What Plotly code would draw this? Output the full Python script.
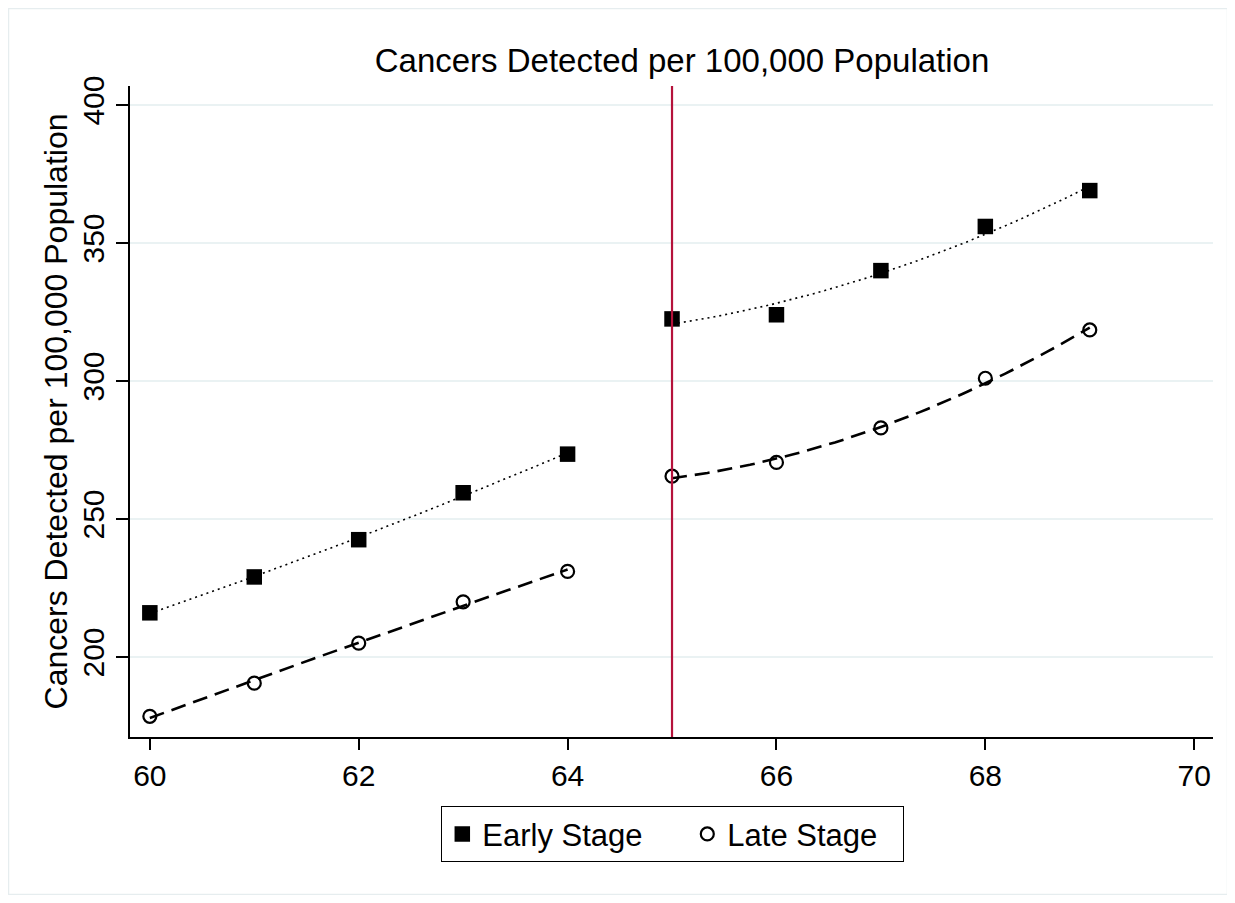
import numpy as np
import plotly.graph_objects as go

age = [60, 61, 62, 63, 64, 65, 66, 67, 68, 69]
early_stage = [216, 229, 242.5, 259.5, 273.5, 322.5, 324, 340, 356, 369]
late_stage = [178.5, 190.5, 205, 220, 231, 265.5, 270.5, 283, 301, 318.5]
cutoff_age = 65
x_ticks = [60, 62, 64, 66, 68, 70]
y_ticks = [200, 250, 300, 350, 400]

FONT = "Liberation Sans, Arial, sans-serif"

fig = go.Figure()

# quadratic fits on each side of the cutoff (as in the original graph)
def qfit(xs, ys):
    xs = np.asarray(xs, float)
    ys = np.asarray(ys, float)
    c = np.polyfit(xs, ys, 2)
    grid = np.linspace(xs.min(), xs.max(), 60)
    return grid, np.polyval(c, grid)

ages = np.array(age)
for series, dash, width in [(early_stage, "2px,4px", 1.6), (late_stage, "15px,8px", 2.6)]:
    arr = np.array(series)
    for mask in (ages < cutoff_age, ages >= cutoff_age):
        gx, gy = qfit(ages[mask], arr[mask])
        fig.add_trace(go.Scatter(x=gx, y=gy, mode="lines",
                                 line=dict(color="black", width=width, dash=dash),
                                 showlegend=False, hoverinfo="skip"))

fig.add_trace(go.Scatter(x=age, y=early_stage, mode="markers", name="Early Stage",
                         legendwidth=200,
                         marker=dict(symbol="square", size=15.5, color="black")))
fig.add_trace(go.Scatter(x=age, y=late_stage, mode="markers", name="Late Stage",
                         legendwidth=170,
                         marker=dict(symbol="circle-open", size=13, color="black",
                                     line=dict(width=2.2, color="black"))))

# vertical cutoff line
fig.add_shape(type="line", x0=cutoff_age, x1=cutoff_age, y0=0, y1=1, xref="x", yref="paper",
              line=dict(color="#B5123B", width=2.2))

# page offset of 8px (body margin) taken into account
W, H = 1220, 887
L, R, T, B = 122, 15, 78, 158
pw, ph = W - L - R, H - T - B

# outer frame
fig.add_shape(type="rect", xref="paper", yref="paper",
              x0=(0.5 - L) / pw, x1=(W - 0.5 - L) / pw,
              y0=(H - B - (H - 0.5)) / ph, y1=(H - B - 0.5) / ph,
              line=dict(color="#E6EDEF", width=1.5), fillcolor="rgba(0,0,0,0)", layer="below")

fig.update_layout(
    width=W, height=H,
    margin=dict(l=L, r=R, t=T, b=B),
    paper_bgcolor="white", plot_bgcolor="white",
    font=dict(family=FONT, size=30, color="black"),
    title=dict(text="Cancers Detected per 100,000 Population", x=674 / W,
               xanchor="center", y=1 - 52 / H, yanchor="middle",
               font=dict(size=33, family=FONT, color="black")),
    showlegend=True,
    legend=dict(orientation="h", x=(433 - L) / pw, xanchor="left",
                y=-(798 - (H - B)) / ph, yanchor="top",
                bordercolor="black", borderwidth=1.3, bgcolor="white",
                font=dict(size=31, family=FONT), itemwidth=30,
                tracegroupgap=0),
    xaxis=dict(range=[59.81, 70.18], tickvals=x_ticks, showgrid=False, zeroline=False,
               showline=True, linecolor="black", linewidth=1.5,
               ticks="outside", ticklen=11, tickwidth=1.5, tickcolor="black",
               tickfont=dict(size=30, family=FONT)),
    yaxis=dict(range=[171, 406.9], tickvals=y_ticks, showgrid=True, gridcolor="#EAF2F3", gridwidth=2,
               zeroline=False, showline=True, linecolor="black", linewidth=1.5,
               ticks="outside", ticklen=12, tickwidth=1.5, tickcolor="black",
               tickangle=-90, tickfont=dict(size=30, family=FONT),
               title=dict(text="Cancers Detected per 100,000 Population",
                          font=dict(size=32, family=FONT), standoff=0)),
)

fig.write_html("out.html")
